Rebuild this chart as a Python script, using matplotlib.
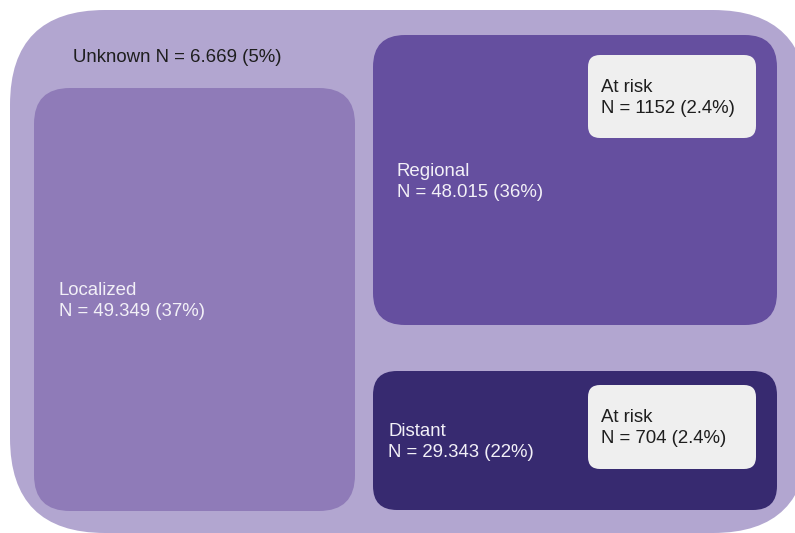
import matplotlib.pyplot as plt
from matplotlib.patches import FancyBboxPatch

plt.rcParams['font.family'] = ['Liberation Sans', 'DejaVu Sans']

# data
stages = ["Localized", "Regional", "Distant"]
counts = ["49.349", "48.015", "29.343"]
shares = ["37%", "36%", "22%"]
unknown_n = "6.669"
unknown_share = "5%"
risk_counts = ["1152", "704"]
risk_shares = ["2.4%", "2.4%"]

# layout in pixels (x0, y0, x1, y1), y from top
outer_box = (10, 10, 808, 533)
stage_boxes = [(34, 88, 355, 511), (373, 35, 777, 325), (373, 371, 777, 510)]
stage_colors = ["#8f7bb8", "#654f9f", "#372a70"]
stage_radius = [36, 32, 24]
stage_text = [(59, 301), (397, 182), (388, 442)]
risk_boxes = [(588, 55, 756, 138), (588, 385, 756, 469)]
risk_text = [(601, 98), (601, 428)]

fig = plt.figure(figsize=(7.95, 5.33), dpi=100)
ax = fig.add_axes([0, 0, 1, 1])
ax.set_xlim(0, 795)
ax.set_ylim(533, 0)
ax.axis("off")


def box(b, r, color):
    x0, y0, x1, y1 = b
    p = FancyBboxPatch((x0, y0), x1 - x0, y1 - y0,
                       boxstyle=f"round,pad=0,rounding_size={r}",
                       fc=color, ec="none")
    ax.add_patch(p)


fs = 13.4
box(outer_box, 95, "#b2a6d0")
ax.text(73, 57, f"Unknown N = {unknown_n} ({unknown_share})",
        fontsize=fs, color="#1e1e1e", va="center", ha="left")

for i in range(3):
    box(stage_boxes[i], stage_radius[i], stage_colors[i])
    tx, ty = stage_text[i]
    ax.text(tx, ty, f"{stages[i]}\nN = {counts[i]} ({shares[i]})",
            fontsize=fs, color="#f2f0f7", va="center", ha="left",
            linespacing=1.32)

for i in range(2):
    box(risk_boxes[i], 12, "#efefef")
    tx, ty = risk_text[i]
    ax.text(tx, ty, f"At risk\nN = {risk_counts[i]} ({risk_shares[i]})",
            fontsize=fs, color="#1e1e1e", va="center", ha="left",
            linespacing=1.32)

fig.savefig("out.png", dpi=100)
